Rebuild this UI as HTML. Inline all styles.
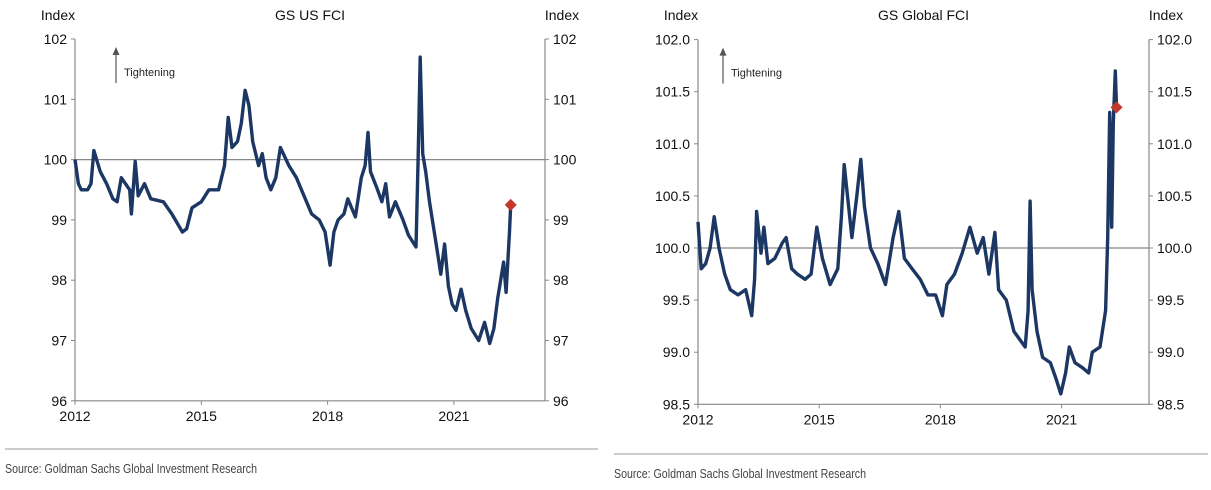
<!DOCTYPE html>
<html><head><meta charset="utf-8"><style>
body{margin:0;background:#fff;width:1211px;height:490px;overflow:hidden;font-family:"Liberation Sans",sans-serif}
svg{position:absolute;left:0;top:0}
</style></head><body>
<svg width="1211" height="490" id="svg" font-family="Liberation Sans, sans-serif"></svg>
<script>
// US FCI data
const usYears=[2012.0,2012.08,2012.15,2012.3,2012.38,2012.45,2012.6,2012.75,2012.9,2013.0,2013.1,2013.3,2013.34,2013.43,2013.5,2013.65,2013.8,2014.1,2014.3,2014.55,2014.65,2014.78,2015.0,2015.18,2015.41,2015.55,2015.64,2015.73,2015.86,2015.95,2016.04,2016.13,2016.22,2016.36,2016.45,2016.54,2016.65,2016.77,2016.88,2017.08,2017.26,2017.44,2017.62,2017.8,2017.94,2018.06,2018.15,2018.25,2018.39,2018.48,2018.66,2018.8,2018.89,2018.96,2019.02,2019.16,2019.29,2019.38,2019.47,2019.61,2019.79,2019.92,2020.1,2020.15,2020.2,2020.26,2020.33,2020.42,2020.51,2020.6,2020.69,2020.78,2020.87,2020.96,2021.05,2021.17,2021.28,2021.41,2021.59,2021.73,2021.85,2021.95,2022.04,2022.18,2022.24,2022.32,2022.35];
const usValues=[100.0,99.6,99.5,99.5,99.6,100.15,99.8,99.6,99.35,99.3,99.7,99.5,99.1,99.97,99.4,99.6,99.35,99.3,99.1,98.8,98.85,99.2,99.3,99.5,99.5,99.9,100.7,100.2,100.3,100.6,101.15,100.9,100.3,99.9,100.1,99.7,99.5,99.7,100.2,99.9,99.7,99.4,99.1,99.0,98.8,98.25,98.8,99.0,99.1,99.35,99.05,99.7,99.9,100.45,99.8,99.55,99.3,99.6,99.05,99.3,99.0,98.75,98.55,100.0,101.7,100.1,99.8,99.3,98.9,98.5,98.1,98.6,97.9,97.6,97.5,97.85,97.5,97.2,97.0,97.3,96.95,97.2,97.7,98.3,97.8,98.8,99.25];
const usTicksY=[96,97,98,99,100,101,102];
// Global FCI data
const glYears=[2012.0,2012.08,2012.19,2012.3,2012.4,2012.52,2012.66,2012.8,2012.99,2013.18,2013.33,2013.4,2013.45,2013.56,2013.63,2013.73,2013.9,2014.09,2014.18,2014.32,2014.46,2014.65,2014.8,2014.94,2015.08,2015.27,2015.46,2015.55,2015.62,2015.7,2015.81,2015.93,2016.03,2016.12,2016.27,2016.45,2016.64,2016.83,2016.97,2017.11,2017.3,2017.5,2017.69,2017.88,2018.05,2018.16,2018.35,2018.54,2018.73,2018.91,2019.06,2019.2,2019.35,2019.44,2019.63,2019.82,2020.1,2020.17,2020.22,2020.27,2020.39,2020.53,2020.72,2020.86,2020.98,2021.1,2021.19,2021.33,2021.52,2021.67,2021.76,2021.95,2022.09,2022.14,2022.19,2022.24,2022.28,2022.33,2022.36];
const glValues=[100.25,99.8,99.85,100.0,100.3,100.0,99.75,99.6,99.55,99.6,99.35,99.7,100.35,99.95,100.2,99.85,99.9,100.05,100.1,99.8,99.75,99.7,99.75,100.2,99.9,99.65,99.8,100.3,100.8,100.5,100.1,100.5,100.85,100.4,100.0,99.85,99.65,100.1,100.35,99.9,99.8,99.7,99.55,99.55,99.35,99.65,99.75,99.95,100.2,99.95,100.1,99.75,100.15,99.6,99.5,99.2,99.05,99.4,100.45,99.6,99.2,98.95,98.9,98.75,98.6,98.8,99.05,98.9,98.85,98.8,99.0,99.05,99.4,100.1,101.3,100.2,101.2,101.7,101.35];
const glTicksY=[98.5,99.0,99.5,100.0,100.5,101.0,101.5,102.0];
const xTickYears=[2012,2015,2018,2021];

const NS="http://www.w3.org/2000/svg";
const svg=document.getElementById('svg');
function mk(tag,attrs,parent){const e=document.createElementNS(NS,tag);for(const k in attrs)e.setAttribute(k,attrs[k]);(parent||svg).appendChild(e);return e;}
function txt(s,attrs,parent){const e=mk('text',attrs,parent);e.textContent=s;return e;}

function chart(o){
  const g=mk('g',{});
  
  
  const xs=y=>o.x0+(y-2012)*o.pxYear;
  const ys=v=>o.yRef-(v-100)*o.pxUnit;
  const top=ys(o.ticksY[o.ticksY.length-1]), bot=ys(o.ticksY[0]);
  let t;
  t=txt('Index',{x:o.x0-17,y:20,'font-size':14,fill:'#111','text-anchor':'middle'},g);
  
  t=txt('Index',{x:o.x1+17,y:20,'font-size':14,fill:'#111','text-anchor':'middle'},g);
  
  t=txt(o.title,{x:(o.x0+o.x1)/2,y:20,'font-size':14,fill:'#111','text-anchor':'middle'},g);
  
  // axes
  let a=mk('line',{x1:o.x0,y1:top,x2:o.x0,y2:bot,stroke:'#888','stroke-width':1.2},g);
  
  a=mk('line',{x1:o.x1,y1:top,x2:o.x1,y2:bot,stroke:'#888','stroke-width':1.2},g);
  
  a=mk('line',{x1:o.x0,y1:bot,x2:o.x1,y2:bot,stroke:'#888','stroke-width':1.2},g);
  
  a=mk('line',{x1:o.x0,y1:ys(100),x2:o.x1,y2:ys(100),stroke:'#888','stroke-width':1.2},g);
  
  o.ticksY.forEach(v=>{
    const y=ys(v);
    mk('line',{x1:o.x0-4,y1:y,x2:o.x0,y2:y,stroke:'#888'},g);
    mk('line',{x1:o.x1,y1:y,x2:o.x1+4,y2:y,stroke:'#888'},g);
    const lab=o.dec?v.toFixed(1):String(v);
    let l=txt(lab,{x:o.x0-8,y:y+5,'font-size':14,fill:'#111','text-anchor':'end'},g);
    
    l=txt(lab,{x:o.x1+8,y:y+5,'font-size':14,fill:'#111','text-anchor':'start'},g);
    
  });
  xTickYears.forEach(yr=>{
    const x=xs(yr);
    mk('line',{x1:x,y1:bot,x2:x,y2:bot+4,stroke:'#888'},g);
    const l=txt(String(yr),{x:x,y:bot+20,'font-size':14,fill:'#111','text-anchor':'middle'},g);
    
  });
  // tightening
  const ax=o.x0+o.arrowDx;
  mk('line',{x1:ax,y1:top+14,x2:ax,y2:top+44,stroke:'#555','stroke-width':1.2},g);
  mk('polygon',{points:`${ax-3.5},${top+16} ${ax+3.5},${top+16} ${ax},${top+8}`,fill:'#555'},g);
  t=txt('Tightening',{x:ax+8,y:top+37,'font-size':11,fill:'#222'},g);
  
  // series
  const d=o.years.map((yr,i)=>(i?'L':'M')+xs(yr).toFixed(1)+','+ys(o.values[i]).toFixed(1)).join(' ');
  const p=mk('path',{d:d,fill:'none',stroke:'#1c3764','stroke-width':3.4,'stroke-linejoin':'round'},g);
  
  const n=o.years.length-1,mx=xs(o.years[n]),my=ys(o.values[n]);
  const m=mk('polygon',{points:`${mx},${my-6} ${mx+6},${my} ${mx},${my+6} ${mx-6},${my}`,fill:'#c0392b'},g);
  
  // source
  a=mk('line',{x1:o.srcX0,y1:o.srcY,x2:o.srcX1,y2:o.srcY,stroke:'#999','stroke-width':1},g);
  
  t=txt('Source: Goldman Sachs Global Investment Research',{x:o.srcX0,y:o.srcY+24,'font-size':12.5,fill:'#444',transform:`translate(${o.srcX0},0) scale(0.85,1) translate(${-o.srcX0},0)`},g);
  
}
chart({name:'us-fci-chart',title:'GS US FCI',x0:75,x1:545,pxYear:42.1,yRef:159.6,pxUnit:60.3,ticksY:usTicksY,dec:false,years:usYears,values:usValues,arrowDx:41,srcX0:5,srcX1:598,srcY:449});
chart({name:'global-fci-chart',title:'GS Global FCI',x0:698,x1:1149,pxYear:40.4,yRef:248,pxUnit:104.2,ticksY:glTicksY,dec:true,years:glYears,values:glValues,arrowDx:25,srcX0:614,srcX1:1208,srcY:454});
</script>
</body></html>
